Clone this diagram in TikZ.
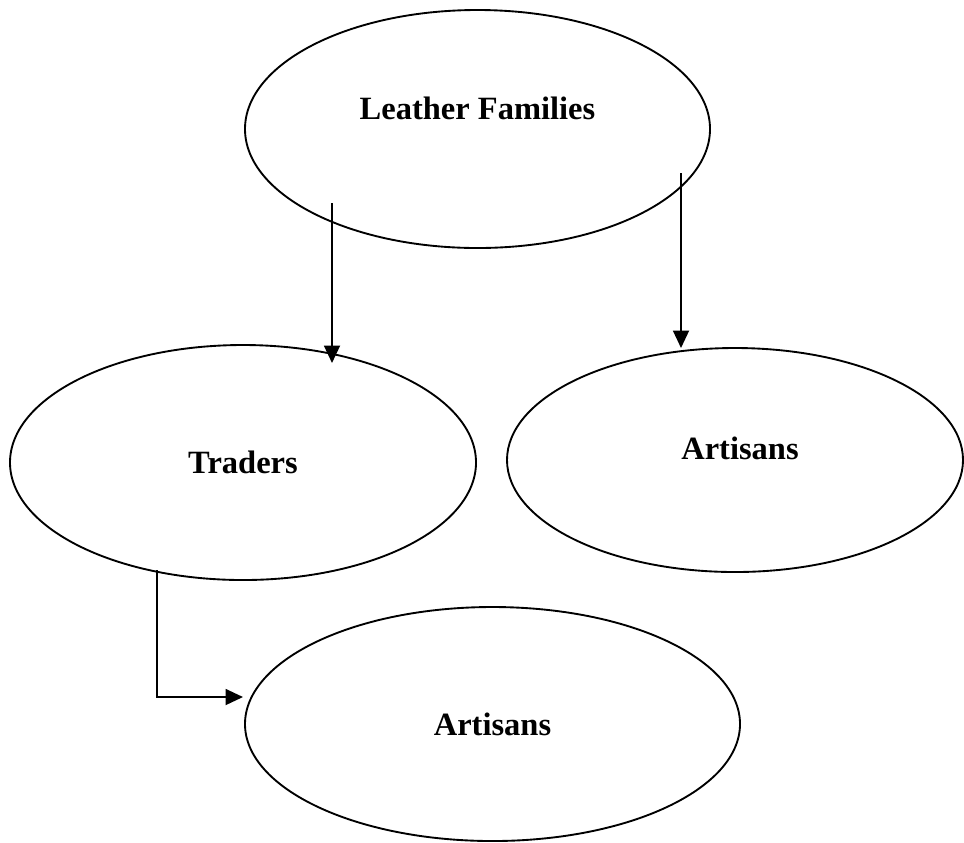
\documentclass[tikz,border=0pt]{standalone}
\usepackage{fontspec}
\setmainfont{Liberation Serif}
\usetikzlibrary{shapes.geometric, arrows.meta}

\tikzset{
 ovaltext/.style={font=\bfseries\fontsize{13}{15}\selectfont},
 oval/.style={draw, ellipse, line width=0.75pt, ovaltext},
 arr/.style={line width=0.75pt, -{Triangle[length=7pt, width=6.4pt]}}
}

\begin{document}
\begin{tikzpicture}[x=0.4pt, y=-0.4pt]
 \useasboundingbox (0,0) rectangle (964,842);
 \node[oval, minimum width=186pt, minimum height=95.2pt,
  label={[yshift=8.4pt, ovaltext]center:Leather Families}] (lf) at (477.5,129) {};
 \node[oval, minimum width=186.4pt, minimum height=94pt] (tr) at (243,462.5) {Traders};
 \node[oval, minimum width=182.4pt, minimum height=89.6pt,
  label={[xshift=2pt, yshift=4.8pt, ovaltext]center:Artisans}] (ar) at (735,460) {};
 \node[oval, minimum width=198pt, minimum height=93.6pt] (ab) at (492.5,724) {Artisans};
%矢印
 \draw[arr] (332,203) coordinate (a1) -- (332,363) coordinate (b1);
 \draw[arr] (681,173) coordinate (a2) -- (681,348) coordinate (b2);
 \draw[arr] (157,570) coordinate (a3) |- (243,697) coordinate (b3);
\end{tikzpicture}
\end{document}
